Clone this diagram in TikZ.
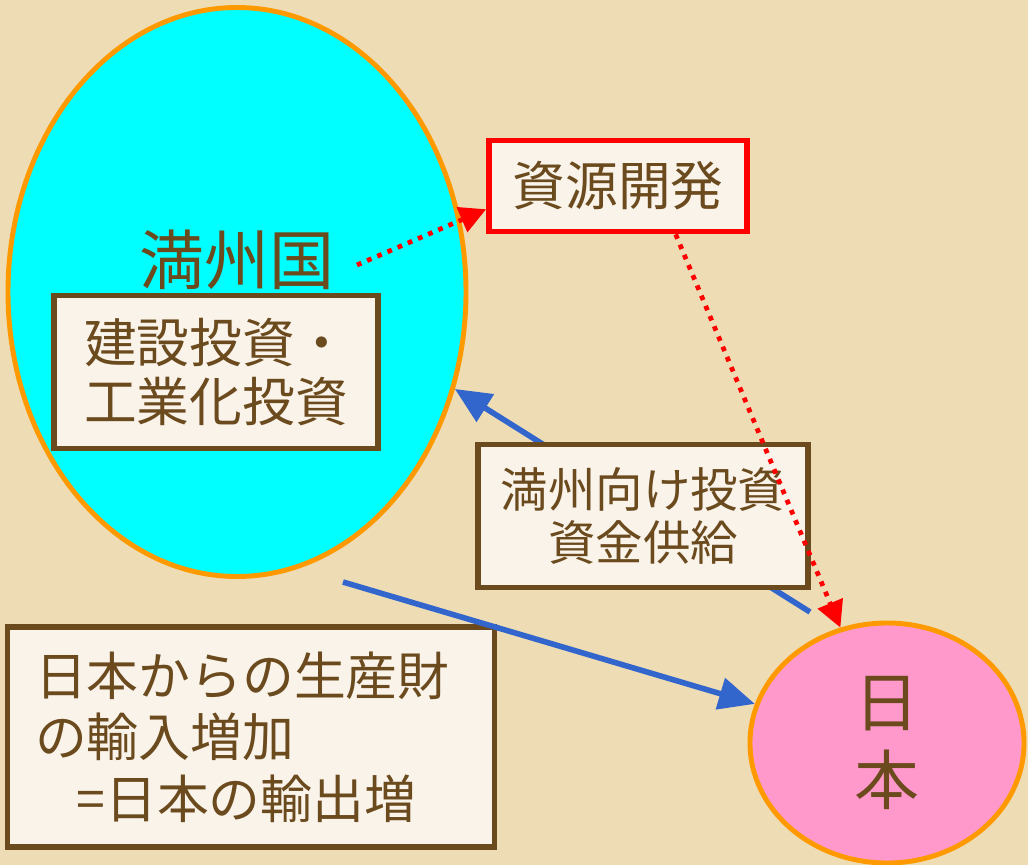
\documentclass[tikz,border=0pt]{standalone}
\usepackage{fontspec}
\newfontfamily\jpfont{Noto Sans CJK JP}
\usetikzlibrary{shapes.geometric,arrows.meta}
\newlength\pxu
\setlength\pxu{0.02cm}
\definecolor{paper}{HTML}{EDDCB4}
\definecolor{bark}{HTML}{6B4A1E}
\definecolor{cream}{HTML}{F9F3EA}
\definecolor{rim}{HTML}{FF9900}
\definecolor{manchu}{HTML}{00FFFF}
\definecolor{rose}{HTML}{FF99CC}
\definecolor{flow}{HTML}{3366CC}
\begin{document}
\begin{tikzpicture}
	[x=1\pxu,y=-1\pxu,
		region/.style={ellipse,draw=rim,line width=2.8pt,inner sep=0pt,text=bark},
		label box/.style={draw=bark,fill=cream,line width=3.3pt,text=bark,inner sep=0pt},
		money/.style={-{Triangle[length=20.5pt,width=18pt]},flow,line width=3.2pt},
		resource/.style={-{Triangle[length=15pt,width=15pt]},red,line width=2.7pt,dash pattern=on 2.7pt off 3.6pt}]
	\fill[paper] (0,0) rectangle (1028,865);
	\useasboundingbox (0,0) rectangle (1028,865);
	\node[region,fill=manchu,minimum width=458\pxu,minimum height=569\pxu] (MC) at (237,292) {};
	\node[region,fill=rose,minimum width=274\pxu,minimum height=240\pxu,align=center,
		font=\jpfont\fontsize{37}{44}\selectfont] (JP) at (887,743) {日\\本};
	\node[text=bark,font=\jpfont\fontsize{37}{40}\selectfont] (MCname) at (237,260) {満州国};
	\node[label box,align=left,minimum width=324\pxu,minimum height=153\pxu,
		font=\jpfont\fontsize{30}{34}\selectfont] (build) at (216,372) {建設投資・\\工業化投資};
	\node[label box,draw=red,minimum width=258\pxu,minimum height=91\pxu,
		font=\jpfont\fontsize{30}{34}\selectfont] (res) at (618,186) {資源開発};
	\node[label box,align=left,text width=432\pxu,minimum width=487\pxu,minimum height=220\pxu,
		font=\jpfont\fontsize{29.5}{35}\selectfont] (exports) at (251,737)
		{日本からの生産財\\の輸入増加\\\hspace*{0.8em}=日本の輸出増};
	\coordinate (fund from) at (810,612);
	\coordinate (goods from) at (343,582);
	\coordinate (MCout) at (357,265);
	\draw[money] (fund from) -- (MC.-24);
	\draw[money] (goods from) -- (JP);
	\node[label box,align=center,minimum width=330\pxu,minimum height=143\pxu,
		font=\jpfont\fontsize{27}{30}\selectfont] (fund) at (643,516) {満州向け投資\\資金供給};
	\draw[resource] (MCout) -- (res.190);
	\draw[resource] (res.-40) -- (JP.112);
\end{tikzpicture}
\end{document}
